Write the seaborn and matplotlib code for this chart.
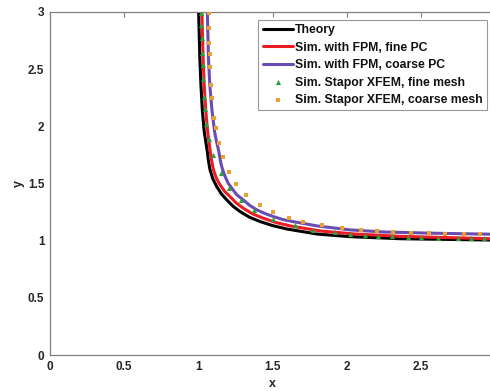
import numpy as np
import pandas as pd
import matplotlib
matplotlib.use("Agg")
import matplotlib.pyplot as plt
import seaborn as sns

# curves
theory_x = [1.002, 1.01, 1.018, 1.027, 1.04, 1.059, 1.068, 1.079, 1.098, 1.124, 1.155, 1.192, 1.235, 1.282, 1.345,
            1.417, 1.5, 1.597, 1.8, 2.024, 2.362, 3.0]
theory_y = [3.0, 2.6, 2.35, 2.14, 1.95, 1.794, 1.70, 1.619, 1.54, 1.473, 1.41, 1.356, 1.30, 1.254, 1.205,
            1.167, 1.132, 1.102, 1.058, 1.035, 1.017, 1.005]

fine_pc_x = [1.024, 1.032, 1.04, 1.05, 1.063, 1.079, 1.09, 1.102, 1.122, 1.147, 1.178, 1.214, 1.255, 1.304, 1.365,
             1.439, 1.52, 1.619, 1.822, 2.047, 2.362, 3.0]
fine_pc_y = [3.0, 2.6, 2.35, 2.14, 1.95, 1.794, 1.70, 1.619, 1.545, 1.487, 1.43, 1.385, 1.33, 1.283, 1.235,
             1.196, 1.16, 1.129, 1.085, 1.059, 1.038, 1.016]

coarse_pc_x = [1.061, 1.068, 1.078, 1.092, 1.11, 1.122, 1.136, 1.152, 1.165, 1.181, 1.2, 1.226, 1.26, 1.304, 1.345,
               1.395, 1.45, 1.507, 1.57, 1.642, 1.8, 2.024, 2.249, 2.587, 3.0]
coarse_pc_y = [3.0, 2.6, 2.35, 2.14, 1.95, 1.87, 1.794, 1.677, 1.615, 1.56, 1.505, 1.458, 1.40, 1.356, 1.31,
               1.269, 1.237, 1.21, 1.185, 1.166, 1.129, 1.094, 1.076, 1.065, 1.056]

xfem_fine_x = [1.019, 1.021, 1.023, 1.027, 1.030, 1.033, 1.037, 1.046, 1.053, 1.073, 1.102, 1.152, 1.208, 1.289, 1.372,
               1.5, 1.651, 1.77, 1.918, 2.024, 2.125, 2.213, 2.305, 2.413, 2.498, 2.613, 2.748, 2.84, 2.928]
xfem_fine_y = [2.99, 2.89, 2.77, 2.645, 2.54, 2.41, 2.26, 2.15, 2.02, 1.89, 1.75, 1.595, 1.458, 1.356, 1.269,
               1.19, 1.133, 1.094, 1.074, 1.056, 1.047, 1.041, 1.037, 1.032, 1.03, 1.026, 1.024, 1.021, 1.021]

xfem_coarse_x = [1.073, 1.075, 1.075, 1.076, 1.082, 1.086, 1.091, 1.104, 1.118, 1.138, 1.169, 1.208, 1.255, 1.318,
                 1.415, 1.503, 1.613, 1.705, 1.834, 1.971, 2.096, 2.204, 2.31, 2.434, 2.557, 2.661, 2.789, 2.897]
xfem_coarse_y = [2.99, 2.858, 2.727, 2.631, 2.522, 2.362, 2.25, 2.076, 1.983, 1.852, 1.735, 1.604, 1.494, 1.4,
                 1.313, 1.249, 1.196, 1.164, 1.135, 1.111, 1.094, 1.082, 1.074, 1.07, 1.065, 1.061, 1.059, 1.059]

ticks = [0, 0.5, 1, 1.5, 2, 2.5, 3]
tick_labels = ["0", "0.5", "1", "1.5", "2", "2.5", "3"]

sns.set_theme(style="white")
plt.rcParams['font.family'] = ['Liberation Sans', 'DejaVu Sans']
plt.rcParams['font.weight'] = 'bold'

fig = plt.figure(figsize=(4.9, 3.91), dpi=100)
# axes run a little past the right edge, as in the cropped original
ax = fig.add_axes([50/490, 36/391, 445/490, 343/391])

sns.lineplot(x=theory_x, y=theory_y, sort=False, estimator=None, color='black', lw=2.2, label='Theory', ax=ax)
sns.lineplot(x=fine_pc_x, y=fine_pc_y, sort=False, estimator=None, color='#ec1c24', lw=2.2,
             label='Sim. with FPM, fine PC', ax=ax)
sns.lineplot(x=coarse_pc_x, y=coarse_pc_y, sort=False, estimator=None, color='#6a4db3', lw=2.2,
             label='Sim. with FPM, coarse PC', ax=ax)
sns.scatterplot(x=xfem_fine_x, y=xfem_fine_y, marker='^', color='#2e9e3a', s=14, linewidth=0,
                label='Sim. Stapor XFEM, fine mesh', ax=ax, zorder=5)
sns.scatterplot(x=xfem_coarse_x, y=xfem_coarse_y, marker='s', color='#e8a12f', s=11, linewidth=0,
                label='Sim. Stapor XFEM, coarse mesh', ax=ax, zorder=5)

ax.set_xlim(0, 3)
ax.set_ylim(0, 3)
ax.set_xticks(ticks)
# the "3" on x falls outside the cropped picture
ax.set_xticklabels(tick_labels[:-1] + [""])
ax.set_yticks(ticks)
ax.set_yticklabels(tick_labels)
ax.tick_params(direction='in', top=True, right=True, length=3.5, width=0.8, color='#808080',
               labelsize=8.5, labelcolor='#262626', pad=4)
for sp in ax.spines.values():
    sp.set_color('#808080')
    sp.set_linewidth(0.9)
ax.set_xlabel('x', fontsize=9, fontweight='bold', color='#262626', labelpad=4)
ax.set_ylabel('y', fontsize=9, fontweight='bold', color='#262626', labelpad=2)

leg = ax.legend(loc='upper right', bbox_to_anchor=(0.982, 0.977), borderaxespad=0, fontsize=8.8,
                frameon=True, fancybox=False, handlelength=2.45, handletextpad=0.2, labelspacing=0.45,
                borderpad=0.35, markerscale=1.0)
leg.get_frame().set_edgecolor('#808080')
leg.get_frame().set_linewidth(0.8)
for t in leg.get_texts():
    t.set_fontweight('bold')
    t.set_color('#111111')

fig.savefig('out.png', dpi=100)
